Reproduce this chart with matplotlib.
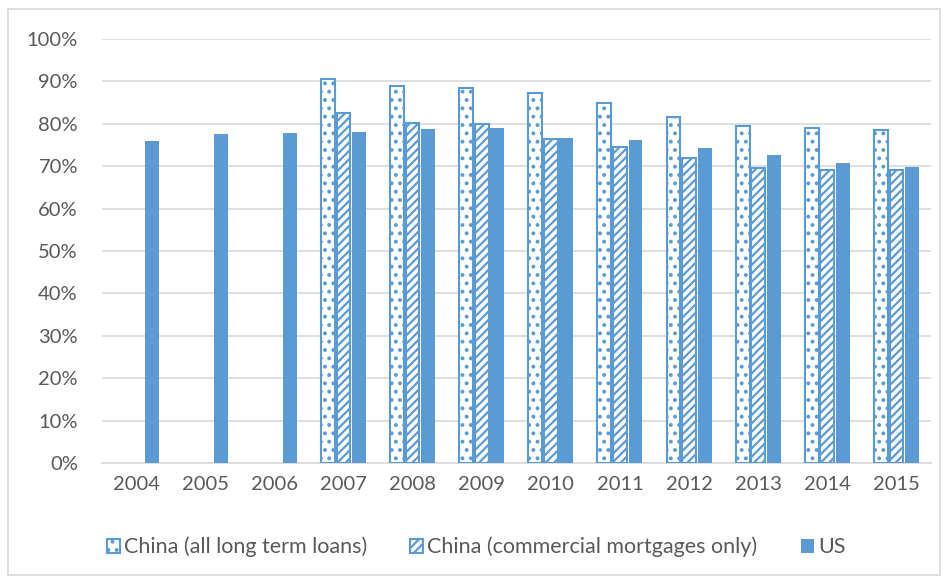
import matplotlib.pyplot as plt
import numpy as np
from matplotlib.patches import Rectangle
from matplotlib.ticker import PercentFormatter

plt.rcParams["font.family"] = ["Lato", "DejaVu Sans"]
plt.rcParams["hatch.color"] = "#5B9BD5"
plt.rcParams["hatch.linewidth"] = 1.6

years = ["2004", "2005", "2006", "2007", "2008", "2009",
         "2010", "2011", "2012", "2013", "2014", "2015"]
china_all = [None, None, None, 90.5, 89.0, 88.5, 87.3, 84.8, 81.5, 79.6, 79.0, 78.5]
china_commercial = [None, None, None, 82.5, 80.3, 80.0, 76.5, 74.5, 72.0, 69.5, 69.2, 69.2]
us = [75.9, 77.6, 77.9, 78.0, 78.7, 79.0, 76.7, 76.2, 74.2, 72.7, 70.7, 69.7]

BLUE = "#5B9BD5"
TEXT = "#595959"
GRID = "#D9D9D9"


def to_array(values):
    return np.array([np.nan if v is None else v / 100 for v in values])


fig = plt.figure(figsize=(9.52, 5.79), dpi=100)
ax = fig.add_axes([101.5 / 952, 0.2003, 829.5 / 952, 0.7323])

x = np.arange(len(years))
step = 0.225
width = 0.2

ax.bar(x - step, to_array(china_all), width, facecolor="white", edgecolor=BLUE,
       linewidth=1.5, hatch="..", label="China (all long term loans)", zorder=3)
ax.bar(x, to_array(china_commercial), width, facecolor="white", edgecolor=BLUE,
       linewidth=1.5, hatch="////", label="China (commercial mortgages only)", zorder=3)
ax.bar(x + step, to_array(us), width, color=BLUE, label="US", zorder=3)

ax.set_xlim(-0.5, len(years) - 0.5)
ax.set_ylim(0, 1.0)
ax.set_yticks(np.arange(0, 1.01, 0.1))
ax.yaxis.set_major_formatter(PercentFormatter(1.0, decimals=0))
ax.set_xticks(x)
ax.set_xticklabels(years)
ax.grid(axis="y", color=GRID, linewidth=1.2, zorder=0)
ax.tick_params(length=0, labelsize=14.5, labelcolor=TEXT)
ax.tick_params(axis="x", pad=9)
ax.tick_params(axis="y", pad=17)
for side in ["top", "right", "left"]:
    ax.spines[side].set_visible(False)
ax.spines["bottom"].set_color(GRID)
ax.spines["bottom"].set_linewidth(1.2)

fig.legend(loc="center", bbox_to_anchor=(0.5, 0.055), ncol=3, frameon=False,
           fontsize=15.5, labelcolor=TEXT, handlelength=0.6, handleheight=0.6,
           handletextpad=0.2, columnspacing=2.0)

fig.patches.append(Rectangle((8 / 952, 4 / 579), 932 / 952, 566 / 579,
                             transform=fig.transFigure, fill=False,
                             edgecolor=GRID, linewidth=1.2))

fig.savefig("out.png", dpi=100)
